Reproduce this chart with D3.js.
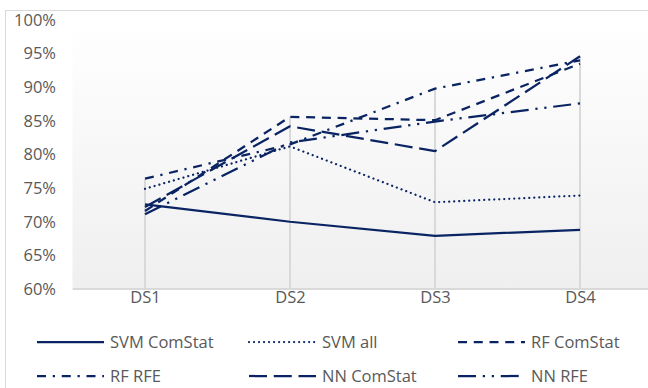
<!DOCTYPE html>
<html>
<head>
<meta charset="utf-8">
<script src="https://cdn.jsdelivr.net/npm/d3@7"></script>
<style>
  html, body { margin: 0; padding: 0; background: #ffffff; }
  svg { display: block; }
</style>
</head>
<body>
<svg id="chart" width="648" height="388"></svg>
<script>
// Accuracy per dataset for each model / feature-set combination
const categories = ["DS1", "DS2", "DS3", "DS4"];
const seriesNames = ["SVM ComStat", "SVM all", "RF ComStat", "RF RFE", "NN ComStat", "NN RFE"];
const svmComStat = [0.726, 0.700, 0.679, 0.688];
const svmAll     = [0.749, 0.812, 0.729, 0.739];
const rfComStat  = [0.716, 0.856, 0.851, 0.935];
const rfRfe      = [0.764, 0.815, 0.898, 0.940];
const nnComStat  = [0.722, 0.842, 0.805, 0.946];
const nnRfe      = [0.711, 0.818, 0.849, 0.876];
const yTicks = [0.60, 0.65, 0.70, 0.75, 0.80, 0.85, 0.90, 0.95, 1.00];

const seriesValues = [svmComStat, svmAll, rfComStat, rfRfe, nnComStat, nnRfe];
// Office-style dash patterns for a 2.25px stroke
const dashes = [null, "0.01 5", "9 6.75", "9 6.75 2.25 6.75", "18 6.75", "18 6.75 2.25 6.75 2.25 6.75"];
const caps = ["butt", "round", "butt", "butt", "butt", "butt"];

const lineColor = "#0a2463";
const textColor = "#595959";
const fontFamily = "'Open Sans', sans-serif";
const fontSize = 16.5;
const svg = d3.select("#chart");
const W = 648, H = 388;
const plot = { left: 72.5, right: 652.5, top: 20, bottom: 289 };

// Outer chart frame
svg.append("rect")
  .attr("x", 5.5).attr("y", 10.5)
  .attr("width", W + 10).attr("height", H + 10)
  .attr("fill", "#ffffff").attr("stroke", "#d9d9d9").attr("stroke-width", 1);

const x = d3.scalePoint().domain(categories).range([plot.left, plot.right]).padding(0.5);
const y = d3.scaleLinear().domain([0.6, 1.0]).range([plot.bottom, plot.top]);

// Plot-area gradient fill
const defs = svg.append("defs");
const grad = defs.append("linearGradient").attr("id", "plotFill")
  .attr("x1", 0).attr("y1", 0).attr("x2", 0).attr("y2", 1);
grad.append("stop").attr("offset", "0%").attr("stop-color", "#ffffff");
grad.append("stop").attr("offset", "100%").attr("stop-color", "#efefef");
defs.append("clipPath").attr("id", "plotClip")
  .append("rect").attr("x", plot.left).attr("y", 0).attr("width", W - plot.left).attr("height", H);

svg.append("rect")
  .attr("x", plot.left).attr("y", plot.top)
  .attr("width", plot.right - plot.left).attr("height", plot.bottom - plot.top)
  .attr("fill", "url(#plotFill)");

// Drop lines from each category's highest value down to the axis
const g = svg.append("g").attr("clip-path", "url(#plotClip)");
categories.forEach((c, i) => {
  const top = d3.max(seriesValues, s => s[i]);
  g.append("line")
    .attr("x1", x(c)).attr("x2", x(c))
    .attr("y1", y(top)).attr("y2", y(0.6))
    .attr("stroke", "#d9d9d9").attr("stroke-width", 2);
});

// Horizontal category axis line
g.append("line")
  .attr("x1", plot.left).attr("x2", plot.right)
  .attr("y1", y(0.6)).attr("y2", y(0.6))
  .attr("stroke", "#d9d9d9").attr("stroke-width", 2);

// Y axis labels
const yAxis = d3.axisLeft(y).tickValues(yTicks).tickFormat(d3.format(".0%")).tickSize(0).tickPadding(0);
const ya = svg.append("g").attr("transform", `translate(56,0)`).call(yAxis);
ya.select(".domain").remove();
ya.selectAll("text")
  .attr("font-family", fontFamily).attr("font-size", fontSize).attr("fill", textColor);

// X axis labels
const xAxis = d3.axisBottom(x).tickSize(0).tickPadding(0);
const xa = svg.append("g").attr("transform", `translate(0,291)`).call(xAxis);
xa.select(".domain").remove();
xa.selectAll("text")
  .attr("font-family", fontFamily).attr("font-size", fontSize).attr("fill", textColor);

// Series lines
const line = d3.line().x((d, i) => x(categories[i])).y(d => y(d));
seriesValues.forEach((vals, k) => {
  g.append("path")
    .datum(vals)
    .attr("d", line)
    .attr("fill", "none")
    .attr("stroke", lineColor)
    .attr("stroke-width", 2.25)
    .attr("stroke-linecap", caps[k])
    .attr("stroke-linejoin", "round")
    .attr("stroke-dasharray", dashes[k]);
});

// Legend: three columns, two rows
const legCols = [37, 249, 458];
const legRows = [342, 376];
seriesNames.forEach((name, k) => {
  const cx = legCols[k % 3], cy = legRows[Math.floor(k / 3)];
  const lg = svg.append("g");
  lg.append("line")
    .attr("x1", cx).attr("x2", cx + 67).attr("y1", cy).attr("y2", cy)
    .attr("stroke", lineColor).attr("stroke-width", 2.25)
    .attr("stroke-linecap", caps[k])
    .attr("stroke-dasharray", dashes[k]);
  lg.append("text")
    .attr("x", cx + 73).attr("y", cy).attr("dy", "0.35em")
    .attr("font-family", fontFamily).attr("font-size", fontSize)
    .attr("fill", textColor)
    .text(name);
});
</script>
</body>
</html>
